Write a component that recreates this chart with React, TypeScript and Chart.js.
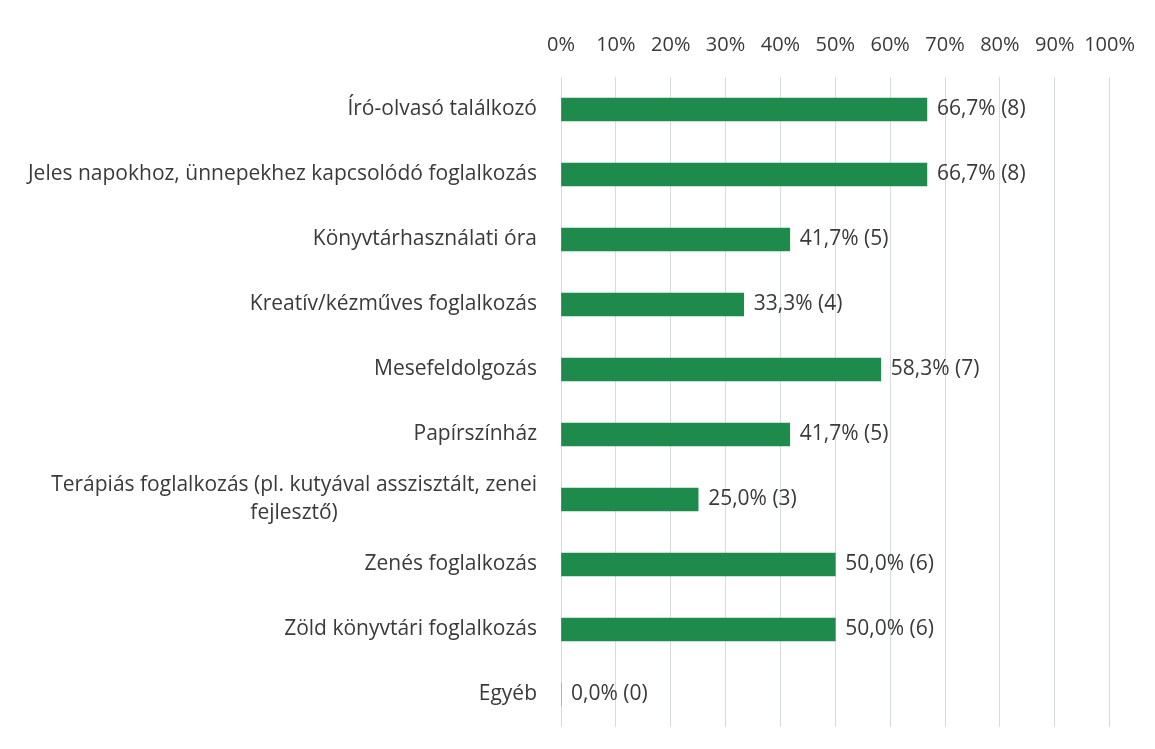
import React, { useEffect, useRef } from "react";
import { Chart, registerables } from "chart.js";

Chart.register(...registerables);

const categories: string[][] = [
  ["Író-olvasó találkozó"],
  ["Jeles napokhoz, ünnepekhez kapcsolódó foglalkozás"],
  ["Könyvtárhasználati óra"],
  ["Kreatív/kézműves foglalkozás"],
  ["Mesefeldolgozás"],
  ["Papírszínház"],
  ["Terápiás foglalkozás (pl. kutyával asszisztált, zenei", "fejlesztő)"],
  ["Zenés foglalkozás"],
  ["Zöld könyvtári foglalkozás"],
  ["Egyéb"],
];
const percents: number[] = [66.7, 66.7, 41.7, 33.3, 58.3, 41.7, 25.0, 50.0, 50.0, 0.0];
const counts: number[] = [8, 8, 5, 4, 7, 5, 3, 6, 6, 0];
const xTicks: number[] = [0, 10, 20, 30, 40, 50, 60, 70, 80, 90, 100];

const FONT = "'Open Sans', sans-serif";
const FONT_SIZE = 21;
const TICK_SIZE = 20;
const TEXT = "#3a3a3a";
const GREEN = "#1e8a4b";

const labelsPlugin = {
  id: "customLabels",
  afterDatasetsDraw(chart: any) {
    const ctx = chart.ctx;
    const meta = chart.getDatasetMeta(0);
    const yScale = chart.scales.y;
    ctx.save();
    ctx.font = `${FONT_SIZE}px ${FONT}`;
    ctx.fillStyle = TEXT;
    ctx.textAlign = "left";
    ctx.textBaseline = "middle";
    meta.data.forEach((bar: any, i: number) => {
      const txt = `${percents[i].toFixed(1).replace(".", ",")}% (${counts[i]})`;
      ctx.fillText(txt, bar.x + 10, bar.y);
    });
    const rightX = chart.chartArea.left - 24;
    categories.forEach((lines, i) => {
      const y = yScale.getPixelForTick(i);
      if (lines.length === 1) {
        ctx.textAlign = "right";
        ctx.fillText(lines[0], rightX, y);
      } else {
        const lh = 28;
        const w0 = ctx.measureText(lines[0]).width;
        const cx = rightX - w0 / 2;
        ctx.textAlign = "center";
        lines.forEach((ln, k) => {
          ctx.fillText(ln, cx, y + (k - (lines.length - 1) / 2) * lh);
        });
      }
    });
    ctx.restore();
  },
};

export default function App() {
  const ref = useRef<HTMLCanvasElement | null>(null);
  useEffect(() => {
    if (!ref.current) return;
    const chart = new Chart(ref.current, {
      type: "bar",
      data: {
        labels: categories.map((c) => c.join(" ")),
        datasets: [
          {
            data: percents,
            backgroundColor: GREEN,
            barThickness: 23,
          },
        ],
      },
      options: {
        indexAxis: "y",
        animation: false,
        responsive: false,
        maintainAspectRatio: false,
        layout: { padding: { left: 0, right: 44, top: 0, bottom: 22 } },
        plugins: { legend: { display: false }, tooltip: { enabled: false } },
        scales: {
          x: {
            position: "top",
            min: 0,
            max: 100,
            afterBuildTicks: (scale: any) => {
              scale.ticks = xTicks.map((v) => ({ value: v }));
            },
            afterFit: (scale: any) => {
              scale.height = 77;
            },
            ticks: {
              color: TEXT,
              font: { family: FONT, size: TICK_SIZE },
              padding: 20,
              maxRotation: 0,
              autoSkip: false,
              callback: (v: any) => `${v}%`,
            },
            grid: { color: "#d5dde2", drawTicks: false, lineWidth: 1 },
            border: { display: false },
          },
          y: {
            afterFit: (scale: any) => {
              scale.width = 561;
            },
            ticks: { display: false },
            grid: { display: false, drawTicks: false },
            border: { display: false },
          },
        },
      },
      plugins: [labelsPlugin],
    });
    return () => chart.destroy();
  }, []);
  return (
    <div style={{ position: "absolute", left: 0, top: 0, width: 1155, height: 749, background: "#fff" }}>
      <canvas ref={ref} width={1155} height={749} />
    </div>
  );
}
